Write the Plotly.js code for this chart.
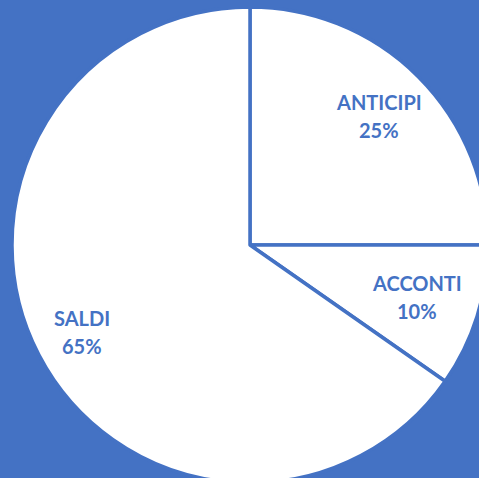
<!DOCTYPE html>
<html>
<head>
<meta charset="utf-8">
<script src="https://cdn.plot.ly/plotly-3.0.1.min.js"></script>
<style>
html,body{margin:0;padding:0;width:479px;height:478px;overflow:hidden;background:#4472C4;}
#chart{position:absolute;left:12px;top:7px;width:476px;height:476px;}
</style>
</head>
<body>
<div id="chart"></div>
<script>
const categories = ["ANTICIPI", "ACCONTI", "SALDI"];
const values = [25, 9.7, 65.3];
const labelRadius = [0.765, 0.735, 0.795];

const BLUE = "#4472C4";
const total = values.reduce((a, b) => a + b, 0);
const annotations = [];
let cum = 0;
values.forEach((v, i) => {
  const mid = (cum + v / 2) / total * 2 * Math.PI;
  cum += v;
  const r = labelRadius[i] * 0.5;
  const base = {
    xref: "paper", yref: "paper",
    x: 0.5 + r * Math.sin(mid),
    y: 0.5 + r * Math.cos(mid),
    xanchor: "center", yanchor: "middle",
    showarrow: false,
    font: {family: "Lato, sans-serif", size: 20, color: BLUE}
  };
  annotations.push(Object.assign({}, base, {text: "<b>" + categories[i] + "</b>", yshift: 14}));
  annotations.push(Object.assign({}, base, {text: "<b>" + Math.round(v / total * 100) + "%</b>", yshift: -14}));
});

Plotly.newPlot("chart", [{
  type: "pie",
  labels: categories,
  values: values,
  sort: false,
  direction: "clockwise",
  rotation: 0,
  textinfo: "none",
  hoverinfo: "none",
  marker: {colors: ["#FFFFFF", "#FFFFFF", "#FFFFFF"], line: {color: BLUE, width: 3.5}},
  domain: {x: [0, 1], y: [0, 1]}
}], {
  width: 476, height: 476,
  margin: {l: 0, r: 0, t: 0, b: 0, pad: 0},
  paper_bgcolor: BLUE,
  plot_bgcolor: BLUE,
  showlegend: false,
  annotations: annotations
}, {staticPlot: true, displayModeBar: false});
</script>
</body>
</html>
